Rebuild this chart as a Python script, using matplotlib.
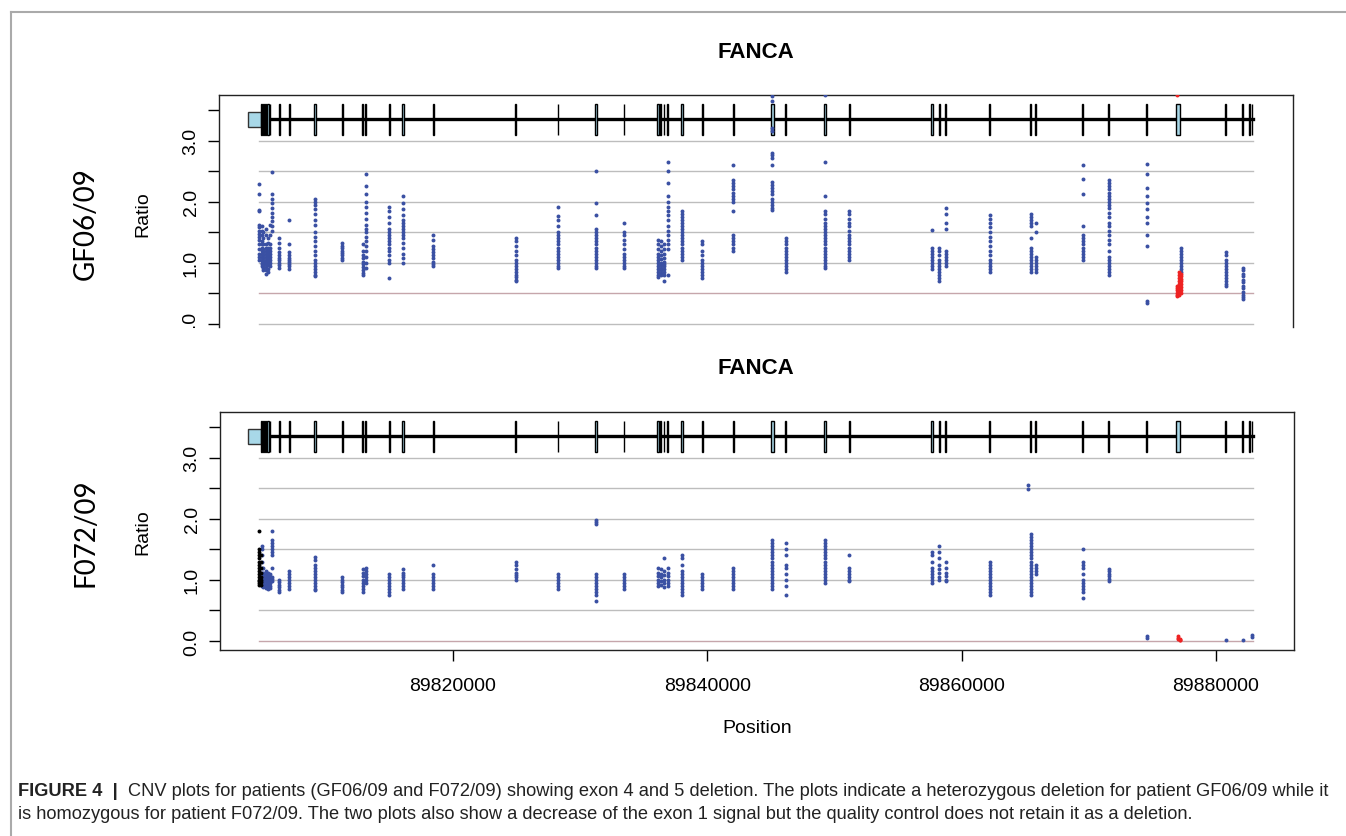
import matplotlib
matplotlib.use("Agg")
import matplotlib.pyplot as plt
import matplotlib.font_manager as fm
from matplotlib.patches import Rectangle
from matplotlib.lines import Line2D

plt.rcParams['font.family'] = ['Liberation Sans', 'DejaVu Sans']

# gene model (FANCA, chr16 positions)
utr_start, utr_end = 89803854, 89804900
gene_end = 89882920
exon_pos = [89804955, 89805080, 89805269, 89805474, 89805608, 89806339, 89807125,
            89809170, 89811294, 89812898, 89813134, 89814990, 89816092, 89818451,
            89824932, 89828259, 89831247, 89833450, 89836147, 89836336, 89836596,
            89836887, 89838011, 89839608, 89842046, 89845113, 89846167, 89849258,
            89851169, 89857697, 89858248, 89858751, 89862212, 89865437, 89865830,
            89869526, 89871571, 89874560, 89877022, 89880773, 89882110, 89882629,
            89882842]
exon_width = [70, 70, 70, 160, 70, 70, 70, 150, 70, 90, 90, 70, 140, 70,
              110, 70, 150, 70, 170, 70, 70, 70, 130, 90, 70, 200, 70, 220,
              90, 130, 120, 70, 90, 70, 70, 70, 90, 70, 260, 70, 70, 70, 70]

# GF06/09 probe ratios
top_blue_pos = [89804766, 89804955, 89805080, 89805269, 89805474, 89805608, 89805804,
                89806339, 89807125, 89809170, 89811294, 89812898, 89813134, 89814990,
                89816092, 89818451, 89824932, 89828259, 89831247, 89833450, 89836147,
                89836336, 89836596, 89836887, 89838011, 89839608, 89842046, 89845113,
                89846167, 89849258, 89851169, 89857697, 89858248, 89858751, 89862212,
                89865437, 89865830, 89869526, 89871571, 89874560, 89877250, 89880773,
                89882110]
top_blue_ratio = [
    [2.29, 2.13, 1.87, 1.85, 1.62, 1.58, 1.52, 1.47, 1.42, 1.38, 1.3, 1.22, 1.15, 1.1, 1.05],
    [1.6, 1.52, 1.45, 1.35, 1.3, 1.25, 1.2, 1.15, 1.1, 1.05, 1.0, 0.98, 0.95],
    [1.5, 1.4, 1.3, 1.22, 1.18, 1.12, 1.08, 1.03, 1.0, 0.96, 0.92, 0.88],
    [1.55, 1.45, 1.3, 1.25, 1.2, 1.15, 1.1, 1.05, 1.02, 0.98, 0.93, 0.88, 0.82],
    [1.4, 1.32, 1.25, 1.2, 1.17, 1.13, 1.1, 1.06, 1.02, 0.97, 0.9, 0.85],
    [1.62, 1.45, 1.3, 1.25, 1.2, 1.15, 1.1, 1.05, 1.0, 0.95],
    [2.48, 2.12, 2.05, 1.98, 1.9, 1.82, 1.75, 1.68, 1.6, 1.52],
    [1.4, 1.32, 1.25, 1.18, 1.12, 1.08, 1.04, 1.0, 0.96, 0.92],
    [1.7, 1.3, 1.17, 1.12, 1.08, 1.05, 1.02, 0.98, 0.94, 0.9],
    [2.05, 2.0, 1.95, 1.88, 1.8, 1.7, 1.62, 1.5, 1.42, 1.35, 1.28, 1.2, 1.12, 1.05, 1.0,
     0.95, 0.9, 0.85, 0.8, 0.78],
    [1.32, 1.28, 1.25, 1.2, 1.16, 1.12, 1.08, 1.05],
    [1.3, 1.2, 1.12, 1.08, 1.02, 0.98, 0.93, 0.88, 0.84, 0.8],
    [2.45, 2.25, 2.12, 2.0, 1.92, 1.82, 1.72, 1.62, 1.55, 1.5, 1.42, 1.35, 1.28, 1.2, 1.1,
     1.0, 0.92],
    [1.92, 1.85, 1.75, 1.65, 1.55, 1.5, 1.45, 1.4, 1.35, 1.3, 1.25, 1.2, 1.12, 1.05, 1.0, 0.75],
    [2.1, 1.98, 1.88, 1.78, 1.7, 1.65, 1.6, 1.55, 1.5, 1.45, 1.4, 1.32, 1.25, 1.15, 1.08, 1.0],
    [1.45, 1.38, 1.28, 1.22, 1.18, 1.12, 1.08, 1.02, 0.98, 0.95],
    [1.4, 1.35, 1.28, 1.2, 1.12, 1.05, 1.0, 0.95, 0.9, 0.85, 0.8, 0.76, 0.72, 0.7],
    [1.92, 1.77, 1.7, 1.6, 1.5, 1.45, 1.4, 1.35, 1.3, 1.25, 1.2, 1.15, 1.1, 1.05, 1.0, 0.95, 0.92],
    [2.5, 1.98, 1.78, 1.55, 1.5, 1.45, 1.4, 1.35, 1.3, 1.25, 1.2, 1.15, 1.1, 1.05, 1.0, 0.95, 0.92],
    [1.65, 1.5, 1.45, 1.38, 1.3, 1.22, 1.15, 1.1, 1.05, 1.0, 0.95, 0.92],
    [1.38, 1.3, 1.22, 1.15, 1.1, 1.05, 1.0, 0.95, 0.9, 0.85, 0.8, 0.76],
    [1.35, 1.28, 1.2, 1.12, 1.06, 1.0, 0.96, 0.92, 0.88, 0.84, 0.8],
    [1.3, 1.22, 1.15, 1.08, 1.02, 0.98, 0.94, 0.9, 0.85, 0.8, 0.7],
    [2.65, 2.5, 2.3, 2.1, 2.0, 1.92, 1.85, 1.78, 1.7, 1.6, 1.52, 1.45, 1.38, 1.3, 1.22, 0.8],
    [1.85, 1.8, 1.75, 1.7, 1.65, 1.6, 1.55, 1.5, 1.45, 1.4, 1.35, 1.3, 1.25, 1.2, 1.15, 1.1, 1.05],
    [1.35, 1.3, 1.2, 1.12, 1.05, 1.0, 0.95, 0.9, 0.85, 0.8, 0.75],
    [2.6, 2.35, 2.3, 2.25, 2.2, 2.15, 2.1, 2.05, 2.0, 1.85, 1.45, 1.4, 1.35, 1.3, 1.25, 1.2],
    [3.73, 3.64, 3.2, 3.15, 2.8, 2.76, 2.72, 2.6, 2.32, 2.27, 2.22, 2.18, 2.12, 2.05, 2.0,
     1.95, 1.9, 1.86],
    [1.4, 1.35, 1.3, 1.25, 1.2, 1.15, 1.1, 1.05, 1.0, 0.95, 0.9, 0.85],
    [3.75, 2.65, 2.1, 1.85, 1.8, 1.72, 1.65, 1.6, 1.55, 1.5, 1.45, 1.4, 1.35, 1.3, 1.25, 1.2,
     1.15, 1.1, 1.05, 1.0, 0.95, 0.92],
    [1.85, 1.8, 1.72, 1.65, 1.6, 1.52, 1.45, 1.4, 1.35, 1.3, 1.25, 1.2, 1.15, 1.1, 1.05],
    [1.53, 1.25, 1.2, 1.15, 1.1, 1.05, 1.0, 0.95, 0.9],
    [1.25, 1.2, 1.12, 1.05, 1.0, 0.95, 0.9, 0.85, 0.8, 0.75, 0.7],
    [1.9, 1.8, 1.65, 1.55, 1.2, 1.15, 1.1, 1.05, 1.0, 0.95],
    [1.78, 1.72, 1.65, 1.58, 1.5, 1.42, 1.35, 1.28, 1.2, 1.12, 1.05, 1.0, 0.95, 0.9, 0.85],
    [1.8, 1.75, 1.7, 1.65, 1.6, 1.4, 1.25, 1.2, 1.15, 1.1, 1.05, 1.0, 0.95, 0.9, 0.85],
    [1.65, 1.5, 1.1, 1.05, 1.0, 0.95, 0.9, 0.85],
    [2.6, 2.37, 2.12, 1.6, 1.45, 1.4, 1.35, 1.3, 1.25, 1.2, 1.15, 1.1, 1.05],
    [2.35, 2.3, 2.25, 2.2, 2.15, 2.1, 2.05, 2.0, 1.95, 1.9, 1.82, 1.75, 1.65, 1.6, 1.52, 1.45,
     1.38, 1.3, 1.2, 1.1, 1.05, 1.0, 0.95, 0.9, 0.85, 0.8],
    [2.62, 2.45, 2.22, 2.1, 1.98, 1.88, 1.75, 1.65, 1.45, 1.28, 0.37, 0.35],
    [1.25, 1.2, 1.15, 1.1, 1.05, 1.0, 0.95, 0.9, 0.85],
    [1.18, 1.12, 1.05, 1.0, 0.95, 0.9, 0.85, 0.8, 0.75, 0.7, 0.65, 0.62],
    [0.92, 0.88, 0.82, 0.78, 0.72, 0.68, 0.62, 0.58, 0.52, 0.48, 0.44, 0.4],
]
top_red_pos = [89876970, 89877100, 89877230]
top_red_ratio = [
    [3.75, 0.62, 0.58, 0.55, 0.5, 0.47, 0.45],
    [0.85, 0.8, 0.75, 0.7, 0.66, 0.62, 0.58, 0.54, 0.5, 0.48],
    [0.82, 0.78, 0.74, 0.7, 0.65, 0.6, 0.55, 0.5],
]

# F072/09 probe ratios
bot_black_pos = [89804766, 89804870]
bot_black_ratio = [
    [1.8, 1.5, 1.45, 1.4, 1.35, 1.3, 1.25, 1.2, 1.15, 1.1, 1.05, 1.0, 0.98, 0.95, 0.92],
    [1.4, 1.3, 1.2, 1.12, 1.05, 1.0, 0.96, 0.92],
]
bot_blue_pos = [89804955, 89805080, 89805269, 89805474, 89805608, 89805804, 89806339,
                89807125, 89809170, 89811294, 89812898, 89813134, 89814990, 89816092,
                89818451, 89824932, 89828259, 89831247, 89833450, 89836147, 89836336,
                89836596, 89836887, 89838011, 89839608, 89842046, 89845113, 89846167,
                89849258, 89851169, 89857697, 89858248, 89858751, 89862212, 89865185,
                89865437, 89865830, 89869526, 89871571, 89874560, 89880773, 89882110,
                89882842]
bot_blue_ratio = [
    [1.55, 1.5, 1.4, 1.3, 1.2, 1.12, 1.05, 1.0, 0.95, 0.9],
    [1.2, 1.12, 1.08, 1.04, 1.0, 0.96, 0.92, 0.88],
    [1.15, 1.1, 1.05, 1.02, 0.98, 0.94, 0.9, 0.86],
    [1.12, 1.08, 1.04, 1.0, 0.96, 0.92, 0.88, 0.85],
    [1.1, 1.05, 1.0, 0.95, 0.9, 0.86],
    [1.8, 1.65, 1.6, 1.55, 1.5, 1.45, 1.4, 1.2, 1.05, 1.02, 0.98],
    [1.0, 0.96, 0.92, 0.88, 0.84, 0.8],
    [1.15, 1.1, 1.05, 1.0, 0.95, 0.9, 0.85],
    [1.38, 1.32, 1.25, 1.2, 1.15, 1.1, 1.05, 1.0, 0.95, 0.9, 0.85, 0.83],
    [1.05, 1.0, 0.96, 0.92, 0.88, 0.84, 0.8],
    [1.18, 1.12, 1.06, 1.0, 0.95, 0.9, 0.85, 0.8],
    [1.2, 1.15, 1.1, 1.05, 1.0, 0.95],
    [1.1, 1.05, 1.0, 0.95, 0.9, 0.85, 0.8, 0.75],
    [1.17, 1.12, 1.08, 1.04, 1.0, 0.95, 0.9, 0.85],
    [1.25, 1.1, 1.05, 1.0, 0.95, 0.9, 0.85],
    [1.3, 1.25, 1.18, 1.12, 1.08, 1.04, 1.0],
    [1.1, 1.05, 1.0, 0.95, 0.9, 0.85],
    [1.98, 1.95, 1.92, 1.1, 1.05, 1.0, 0.95, 0.9, 0.85, 0.8, 0.75, 0.65],
    [1.1, 1.05, 1.0, 0.95, 0.9, 0.85],
    [1.2, 1.12, 1.06, 1.0, 0.95, 0.9],
    [1.18, 1.1, 1.04, 0.98, 0.92],
    [1.35, 1.15, 1.08, 1.0, 0.95, 0.88],
    [1.2, 1.12, 1.06, 1.0, 0.95, 0.9],
    [1.4, 1.35, 1.25, 1.15, 1.1, 1.05, 1.0, 0.95, 0.9, 0.85, 0.8, 0.75],
    [1.1, 1.05, 1.0, 0.95, 0.9, 0.85],
    [1.2, 1.15, 1.1, 1.05, 1.0, 0.95, 0.9, 0.85],
    [1.65, 1.6, 1.55, 1.5, 1.45, 1.4, 1.35, 1.3, 1.25, 1.2, 1.15, 1.1, 1.05, 1.0, 0.95, 0.9, 0.85],
    [1.6, 1.5, 1.4, 1.25, 1.2, 1.1, 1.0, 0.9, 0.75],
    [1.65, 1.6, 1.55, 1.5, 1.45, 1.4, 1.35, 1.3, 1.25, 1.2, 1.15, 1.1, 1.05, 1.0, 0.95],
    [1.4, 1.2, 1.15, 1.1, 1.05, 1.0, 0.98],
    [1.45, 1.4, 1.3, 1.2, 1.15, 1.1, 1.05, 1.0, 0.95],
    [1.55, 1.45, 1.35, 1.25, 1.18, 1.12, 1.05, 1.0],
    [1.3, 1.2, 1.12, 1.06, 1.0, 0.98],
    [1.3, 1.25, 1.2, 1.15, 1.1, 1.05, 1.0, 0.95, 0.9, 0.85, 0.8, 0.75],
    [2.55, 2.48],
    [1.75, 1.7, 1.65, 1.6, 1.55, 1.5, 1.45, 1.4, 1.35, 1.3, 1.25, 1.2, 1.15, 1.1, 1.05, 1.0,
     0.95, 0.9, 0.85, 0.8, 0.75],
    [1.25, 1.2, 1.15, 1.1],
    [1.5, 1.3, 1.25, 1.2, 1.1, 1.0, 0.95, 0.9, 0.85, 0.8, 0.7],
    [1.18, 1.14, 1.1, 1.06, 1.02, 0.98],
    [0.08, 0.05],
    [0.02],
    [0.02],
    [0.1, 0.07],
]
bot_red_pos = [89877022, 89877150]
bot_red_ratio = [[0.08, 0.05, 0.03], [0.04, 0.02, 0.01]]

grid_levels = [0, 0.5, 1.0, 1.5, 2.0, 2.5, 3.0]
ytick_vals = [0, 0.5, 1.0, 1.5, 2.0, 2.5, 3.0, 3.5]
ytick_text = ['0.0', '', '1.0', '', '2.0', '', '3.0', '']
xtick_vals = [89820000, 89840000, 89860000, 89880000]

W, H = 1346, 837
fig = plt.figure(figsize=(W / 100, H / 100), dpi=100)


def x_at(px):
    # genomic position at a pixel column (ticks 89820000 at 453 px, 254.3 px per 20 kb)
    return 89820000 + (px - 453) * 20000 / 254.3


def flat(pos, ratios):
    xs, ys = [], []
    for p, rs in zip(pos, ratios):
        xs += [p] * len(rs)
        ys += rs
    return xs, ys


def draw_panel(ax, blue, red, black, del_level):
    for lv in grid_levels:
        c = '#c6a6ab' if lv == del_level else '#bdbdbd'
        ax.plot([89804742, gene_end], [lv, lv], color=c, lw=1.0, zorder=1)
    ax.plot([utr_end, gene_end], [3.35, 3.35], color='black', lw=2.4, zorder=3)
    ax.add_patch(Rectangle((utr_start, 3.22), utr_end - utr_start, 0.25,
                           facecolor='#a8d8e8', edgecolor='#333333', lw=1.0, zorder=4))
    for p, w in zip(exon_pos, exon_width):
        ax.add_patch(Rectangle((p - w / 2, 3.09), w, 0.51, facecolor='#a8d8e8',
                               edgecolor='black', lw=1.0, zorder=4))
    for (pos, rat), col in ((blue, '#3a50a3'), (red, '#ee2222'), (black, 'black')):
        if pos:
            xs, ys = flat(pos, rat)
            ax.scatter(xs, ys, s=8, color=col, linewidths=0, zorder=5)
    ax.set_yticks(ytick_vals)
    ax.set_yticklabels(ytick_text, rotation=90, va='center', fontsize=14)
    ax.tick_params(axis='y', length=8, width=1.0, pad=6)
    for sp in ax.spines.values():
        sp.set_linewidth(1.0)
        sp.set_color('#222222')


# top panel (cropped at the bottom like the original)
ax1 = fig.add_axes([219 / W, 1 - 328 / H, (1293 - 219) / W, (328 - 96) / H])
ax1.set_xlim(x_at(219), x_at(1293))
ax1.set_ylim(-0.05, 3.745)
draw_panel(ax1, (top_blue_pos, top_blue_ratio), (top_red_pos, top_red_ratio), ([], []), 0.5)
ax1.spines['bottom'].set_visible(False)
ax1.set_xticks([])

ax2 = fig.add_axes([220 / W, 1 - 650.7 / H, (1294 - 220) / W, (650.7 - 412.7) / H])
ax2.set_xlim(x_at(220), x_at(1294))
ax2.set_ylim(-0.142, 3.75)
draw_panel(ax2, (bot_blue_pos, bot_blue_ratio), (bot_red_pos, bot_red_ratio),
           (bot_black_pos, bot_black_ratio), 0.0)
ax2.set_xticks(xtick_vals)
ax2.set_xticklabels([str(v) for v in xtick_vals], fontsize=14)
ax2.tick_params(axis='x', length=8, width=1.0, pad=12)

# hide the lower half of the cropped "0.0" label of the top panel
fig.patches.append(Rectangle((150 / W, 1 - 345 / H), 68 / W, 16 / H, transform=fig.transFigure,
                             facecolor='white', edgecolor='none', zorder=10))

for yc, title in ((52, 'FANCA'), (369, 'FANCA')):
    fig.text(756 / W, 1 - yc / H, title, ha='center', va='center', fontsize=16, weight='bold')
for yc, name in ((214, 'Ratio'), (532, 'Ratio')):
    fig.text(143 / W, 1 - yc / H, name, ha='center', va='center', rotation=90, fontsize=14)
for yc, name in ((224, 'GF06/09'), (533, 'F072/09')):
    fig.text(86 / W, 1 - yc / H, name, ha='center', va='center', rotation=90, fontsize=20,
             family=['Lato', 'DejaVu Sans'])
fig.text(757 / W, 1 - 729 / H, 'Position', ha='center', va='center', fontsize=14)

# outer panel border
fig.lines.append(Line2D([11 / W, 1], [1 - 13 / H, 1 - 13 / H], transform=fig.transFigure,
                        color='#aaaaaa', lw=1.5))
fig.lines.append(Line2D([11 / W, 11 / W], [0, 1 - 13 / H], transform=fig.transFigure,
                        color='#aaaaaa', lw=1.5))

# caption
names = {f.name for f in fm.fontManager.ttflist}
cap_font = 'Liberation Sans Narrow' if 'Liberation Sans Narrow' in names else 'Liberation Sans'
cap_bold = 'FIGURE 4  |  '
cap_line1 = ('CNV plots for patients (GF06/09 and F072/09) showing exon 4 and 5 deletion. '
             'The plots indicate a heterozygous deletion for patient GF06/09 while it')
cap_line2 = ('is homozygous for patient F072/09. The two plots also show a decrease of the '
             'exon 1 signal but the quality control does not retain it as a deletion.')
tb = fig.text(18 / W, 1 - 792 / H, cap_bold, ha='left', va='center', weight='bold',
              family=cap_font, color='#222222')
t1 = fig.text(0, 1 - 792 / H, cap_line1, ha='left', va='center', family=cap_font, color='#222222')
t2 = fig.text(18 / W, 1 - 815 / H, cap_line2, ha='left', va='center', family=cap_font,
              color='#222222')
fig.canvas.draw()
rend = fig.canvas.get_renderer()
size = 12.0
for _ in range(3):
    for t in (tb, t1, t2):
        t.set_fontsize(size)
    wb = tb.get_window_extent(rend).width
    w1 = t1.get_window_extent(rend).width
    size = size * (1330 - 18) / (wb + w1)
for t in (tb, t1, t2):
    t.set_fontsize(size)
wb = tb.get_window_extent(rend).width
t1.set_x((18 + wb) / W)

fig.savefig('out.png', dpi=100)
